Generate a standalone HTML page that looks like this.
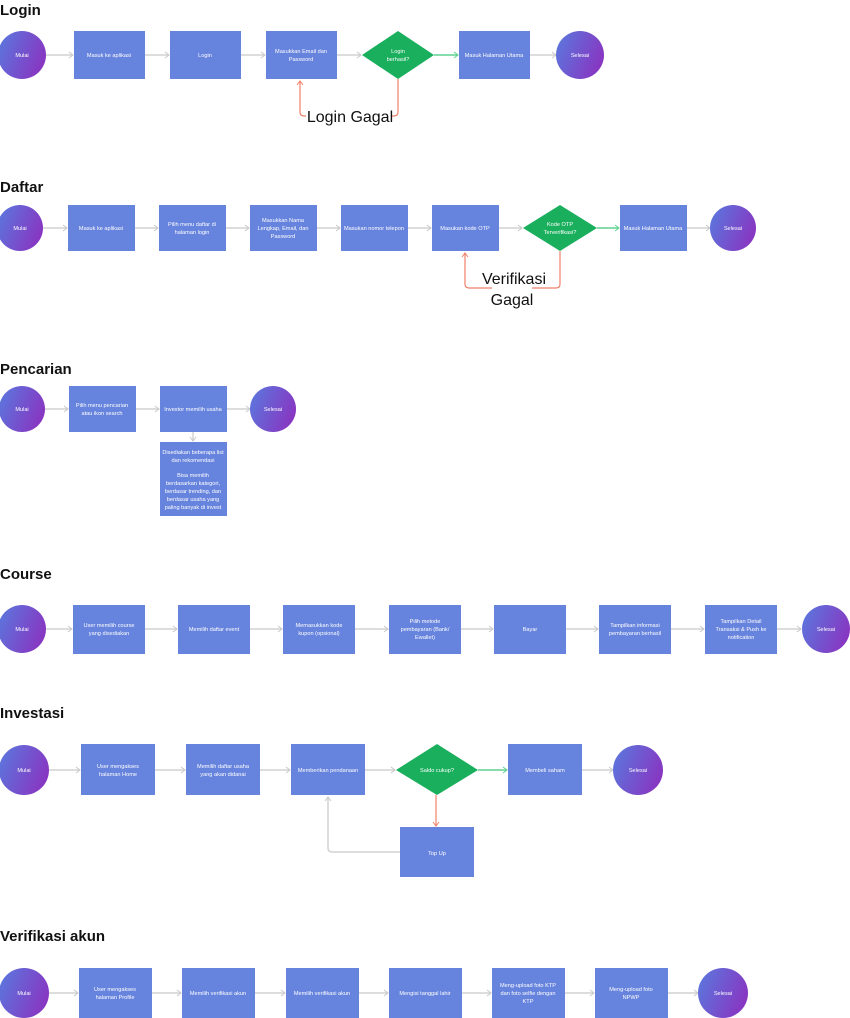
<!DOCTYPE html>
<html><head><meta charset="utf-8"><style>
html,body{margin:0;padding:0;background:#fff;width:850px;height:1018px;overflow:hidden}
svg{display:block}
.t{font-family:"Liberation Sans",sans-serif;font-size:15px;font-weight:bold;fill:#111}
.b{fill:#6683dd}
.d{fill:#1aaf5d}
.w{font-family:"Liberation Sans",sans-serif;font-size:5.6px;fill:#fff;text-anchor:middle}
.g{stroke:#d2d2d2;stroke-width:1.5;fill:none;marker-end:url(#ag)}
.gr{stroke:#5fd08e;stroke-width:1.5;fill:none;marker-end:url(#agr)}
.r{stroke:#f0806a;stroke-width:1.2;fill:none}
.big{font-family:"Liberation Sans",sans-serif;font-size:16px;fill:#111;text-anchor:middle}
</style></head><body>
<svg width="850" height="1018" viewBox="0 0 850 1018" xmlns="http://www.w3.org/2000/svg">
<defs>
<linearGradient id="cg" x1="0" y1="0.3" x2="1" y2="0.7"><stop offset="0" stop-color="#5d74dc"/><stop offset="1" stop-color="#8a33c0"/></linearGradient>
<marker id="ag" markerWidth="6" markerHeight="8" refX="5" refY="4" orient="auto" markerUnits="userSpaceOnUse"><path d="M1,1 L5,4 L1,7" stroke="#c8c8c8" stroke-width="1" fill="none"/></marker>
<marker id="agr" markerWidth="6" markerHeight="8" refX="5" refY="4" orient="auto" markerUnits="userSpaceOnUse"><path d="M1,1 L5,4 L1,7" stroke="#5fd08e" stroke-width="1" fill="none"/></marker>
<marker id="ar" markerWidth="8" markerHeight="8" refX="5" refY="4" orient="auto" markerUnits="userSpaceOnUse"><path d="M1,1 L5,4 L1,7" stroke="#f0806a" stroke-width="1" fill="none"/></marker>
</defs>

<!-- LOGIN -->
<text class="t" x="0" y="15">Login</text>
<path class="g" d="M46,55 H73"/><path class="g" d="M145,55 H169"/><path class="g" d="M241,55 H265"/><path class="g" d="M337,55 H361"/><path class="gr" d="M434,55 H458"/><path class="g" d="M530,55 H556"/>
<ellipse cx="22" cy="55" rx="24" ry="24" fill="url(#cg)"/><text class="w" x="22" y="57">Mulai</text>
<rect class="b" x="74" y="31" width="71" height="48"/><text class="w" x="109" y="57">Masuk ke aplikasi</text>
<rect class="b" x="170" y="31" width="71" height="48"/><text class="w" x="205" y="57">Login</text>
<rect class="b" x="266" y="31" width="71" height="48"/><text class="w" x="301" y="53">Masukkan Email dan</text><text class="w" x="301" y="61">Password</text>
<polygon class="d" points="362,55 398,31 434,55 398,79"/><text class="w" x="398" y="53">Login</text><text class="w" x="398" y="61">berhasil?</text>
<rect class="b" x="459" y="31" width="71" height="48"/><text class="w" x="494" y="57">Masuk Halaman Utama</text>
<ellipse cx="580" cy="55" rx="24" ry="24" fill="url(#cg)"/><text class="w" x="580" y="57">Selesai</text>
<path class="r" d="M398,79 V112 Q398,116 394,116 H392"/>
<path class="r" d="M306,116 H304 Q300,116 300,112 V81" marker-end="url(#ar)"/>
<text class="big" x="350" y="122">Login Gagal</text>

<!-- DAFTAR -->
<text class="t" x="0" y="192">Daftar</text>
<path class="g" d="M43,228 H67"/><path class="g" d="M135,228 H158"/><path class="g" d="M226,228 H249"/><path class="g" d="M317,228 H340"/><path class="g" d="M408,228 H431"/><path class="g" d="M499,228 H522"/><path class="gr" d="M597,228 H619"/><path class="g" d="M687,228 H710"/>
<ellipse cx="20" cy="228" rx="23" ry="23" fill="url(#cg)"/><text class="w" x="20" y="230">Mulai</text>
<rect class="b" x="68" y="205" width="67" height="46"/><text class="w" x="101" y="230">Masuk ke aplikasi</text>
<rect class="b" x="159" y="205" width="67" height="46"/><text class="w" x="192" y="226">Pilih menu daftar di</text><text class="w" x="192" y="234">halaman login</text>
<rect class="b" x="250" y="205" width="67" height="46"/><text class="w" x="283" y="222">Masukkan Nama</text><text class="w" x="283" y="230">Lengkap, Email, dan</text><text class="w" x="283" y="238">Password</text>
<rect class="b" x="341" y="205" width="67" height="46"/><text class="w" x="374" y="230">Masukan nomor telepon</text>
<rect class="b" x="432" y="205" width="67" height="46"/><text class="w" x="465" y="230">Masukan kode OTP</text>
<polygon class="d" points="523,228 560,205 597,228 560,251"/><text class="w" x="560" y="226">Kode OTP</text><text class="w" x="560" y="234">Terverifikasi?</text>
<rect class="b" x="620" y="205" width="67" height="46"/><text class="w" x="653" y="230">Masuk Halaman Utama</text>
<ellipse cx="733" cy="228" rx="23" ry="23" fill="url(#cg)"/><text class="w" x="733" y="230">Selesai</text>
<path class="r" d="M560,251 V284 Q560,288 556,288 H532"/>
<path class="r" d="M492,288 H469 Q465,288 465,284 V253" marker-end="url(#ar)"/>
<text class="big" x="514" y="284">Verifikasi</text>
<text class="big" x="512" y="305">Gagal</text>

<!-- PENCARIAN -->
<text class="t" x="0" y="374">Pencarian</text>
<path class="g" d="M45,409 H68"/><path class="g" d="M136,409 H159"/><path class="g" d="M227,409 H250"/><path class="g" d="M193,432 V441"/>
<ellipse cx="22" cy="409" rx="23" ry="23" fill="url(#cg)"/><text class="w" x="22" y="411">Mulai</text>
<rect class="b" x="69" y="386" width="67" height="46"/><text class="w" x="102" y="407">Pilih menu pencarian</text><text class="w" x="102" y="415">atau ikon search</text>
<rect class="b" x="160" y="386" width="67" height="46"/><text class="w" x="193" y="411">Investor memilih usaha</text>
<ellipse cx="273" cy="409" rx="23" ry="23" fill="url(#cg)"/><text class="w" x="273" y="411">Selesai</text>
<rect class="b" x="160" y="442" width="67" height="74"/>
<text class="w" x="193" y="454">Disediakan beberapa list</text><text class="w" x="193" y="462">dan rekomendasi</text>
<text class="w" x="193" y="477">Bisa memilih</text><text class="w" x="193" y="485">berdasarkan kategori,</text><text class="w" x="193" y="493">berdasar trending, dan</text><text class="w" x="193" y="501">berdasar usaha yang</text><text class="w" x="193" y="509">paling banyak di invest</text>

<!-- COURSE -->
<text class="t" x="0" y="579">Course</text>
<path class="g" d="M46,629 H72"/><path class="g" d="M145,629 H177"/><path class="g" d="M250,629 H282"/><path class="g" d="M355,629 H388"/><path class="g" d="M461,629 H493"/><path class="g" d="M566,629 H598"/><path class="g" d="M671,629 H704"/><path class="g" d="M777,629 H801"/>
<ellipse cx="22" cy="629" rx="24" ry="24" fill="url(#cg)"/><text class="w" x="22" y="631">Mulai</text>
<rect class="b" x="73" y="605" width="72" height="49"/><text class="w" x="109" y="627">User memilih course</text><text class="w" x="109" y="635">yang disediakan</text>
<rect class="b" x="178" y="605" width="72" height="49"/><text class="w" x="214" y="631">Memilih daftar event</text>
<rect class="b" x="283" y="605" width="72" height="49"/><text class="w" x="319" y="627">Memasukkan kode</text><text class="w" x="319" y="635">kupon (opsional)</text>
<rect class="b" x="389" y="605" width="72" height="49"/><text class="w" x="425" y="623">Pilih metode</text><text class="w" x="425" y="631">pembayaran (Bank/</text><text class="w" x="425" y="639">Ewallet)</text>
<rect class="b" x="494" y="605" width="72" height="49"/><text class="w" x="530" y="631">Bayar</text>
<rect class="b" x="599" y="605" width="72" height="49"/><text class="w" x="635" y="627">Tampilkan informasi</text><text class="w" x="635" y="635">pembayaran berhasil</text>
<rect class="b" x="705" y="605" width="72" height="49"/><text class="w" x="741" y="623">Tampilkan Detail</text><text class="w" x="741" y="631">Transaksi &amp; Push ke</text><text class="w" x="741" y="639">notification</text>
<ellipse cx="826" cy="629" rx="24" ry="24" fill="url(#cg)"/><text class="w" x="826" y="631">Selesai</text>

<!-- INVESTASI -->
<text class="t" x="0" y="718">Investasi</text>
<path class="g" d="M49,770 H80"/><path class="g" d="M155,770 H185"/><path class="g" d="M260,770 H290"/><path class="g" d="M365,770 H395"/><path class="gr" d="M478,770 H507"/><path class="g" d="M582,770 H613"/>
<path class="g" d="M400,852 H332 Q328,852 328,848 V797"/>
<path class="r" d="M436,795 V826" marker-end="url(#ar)"/>
<ellipse cx="24" cy="770" rx="25" ry="25" fill="url(#cg)"/><text class="w" x="24" y="772">Mulai</text>
<rect class="b" x="81" y="744" width="74" height="51"/><text class="w" x="118" y="768">User mengakses</text><text class="w" x="118" y="776">halaman Home</text>
<rect class="b" x="186" y="744" width="74" height="51"/><text class="w" x="223" y="768">Memilih daftar usaha</text><text class="w" x="223" y="776">yang akan didanai</text>
<rect class="b" x="291" y="744" width="74" height="51"/><text class="w" x="328" y="772">Memberikan pendanaan</text>
<polygon class="d" points="396,770 437,744 478,770 437,795"/><text class="w" x="437" y="772">Saldo cukup?</text>
<rect class="b" x="508" y="744" width="74" height="51"/><text class="w" x="545" y="772">Membeli saham</text>
<ellipse cx="638" cy="770" rx="25" ry="25" fill="url(#cg)"/><text class="w" x="638" y="772">Selesai</text>
<rect class="b" x="400" y="827" width="74" height="50"/><text class="w" x="437" y="855">Top Up</text>

<!-- VERIFIKASI AKUN -->
<text class="t" x="0" y="941">Verifikasi akun</text>
<path class="g" d="M49,993 H78"/><path class="g" d="M152,993 H181"/><path class="g" d="M255,993 H285"/><path class="g" d="M359,993 H388"/><path class="g" d="M462,993 H491"/><path class="g" d="M565,993 H594"/><path class="g" d="M668,993 H698"/>
<ellipse cx="24" cy="993" rx="25" ry="25" fill="url(#cg)"/><text class="w" x="24" y="995">Mulai</text>
<rect class="b" x="79" y="968" width="73" height="50"/><text class="w" x="115" y="991">User mengakses</text><text class="w" x="115" y="999">halaman Profile</text>
<rect class="b" x="182" y="968" width="73" height="50"/><text class="w" x="218" y="995">Memilih verifikasi akun</text>
<rect class="b" x="286" y="968" width="73" height="50"/><text class="w" x="322" y="995">Memilih verifikasi akun</text>
<rect class="b" x="389" y="968" width="73" height="50"/><text class="w" x="425" y="995">Mengisi tanggal lahir</text>
<rect class="b" x="492" y="968" width="73" height="50"/><text class="w" x="528" y="987">Meng-upload foto KTP</text><text class="w" x="528" y="995">dan foto selfie dengan</text><text class="w" x="528" y="1003">KTP</text>
<rect class="b" x="595" y="968" width="73" height="50"/><text class="w" x="631" y="991">Meng-upload foto</text><text class="w" x="631" y="999">NPWP</text>
<ellipse cx="723" cy="993" rx="25" ry="25" fill="url(#cg)"/><text class="w" x="723" y="995">Selesai</text>
</svg>
</body></html>
